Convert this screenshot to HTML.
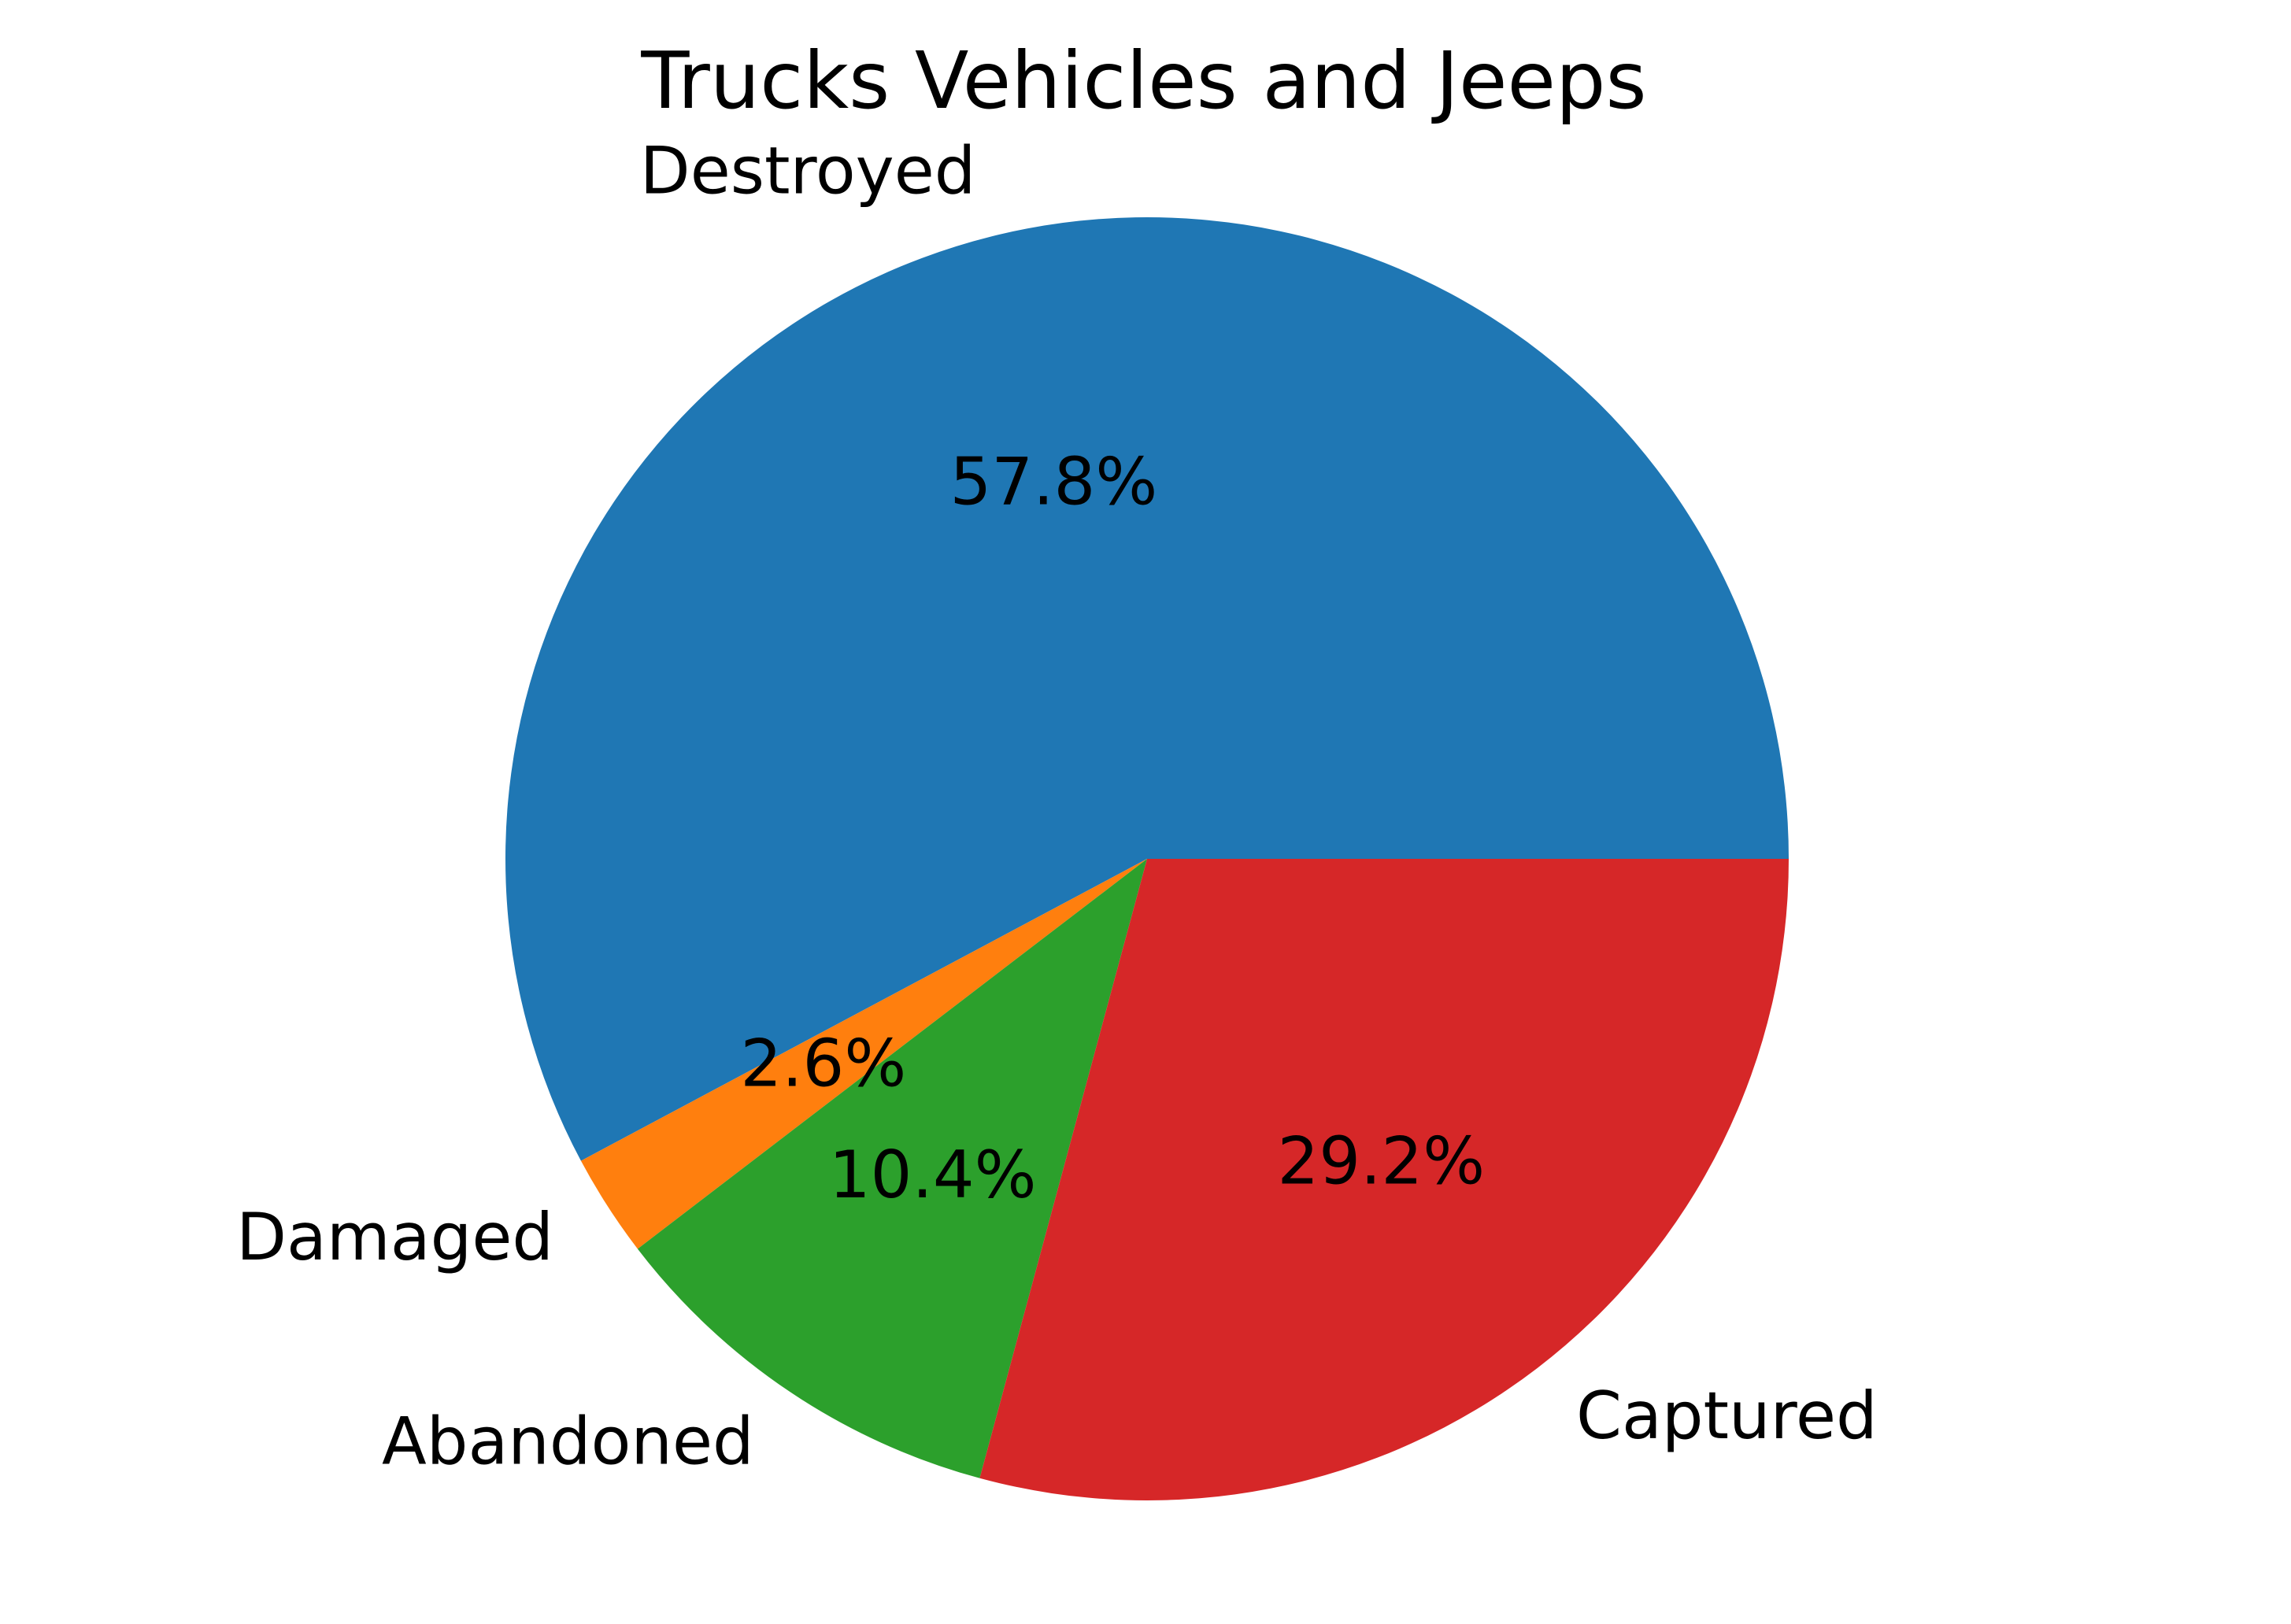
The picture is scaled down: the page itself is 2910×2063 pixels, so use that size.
<!DOCTYPE html>
<html><head><meta charset="utf-8"><style>
html,body{margin:0;padding:0;background:#fff;}
svg text{font-family:"DejaVu Sans","Liberation Sans",sans-serif;fill:#000;}
</style></head><body>
<svg id="chart" width="2910" height="2058" viewBox="0 0 2910 2058" xmlns="http://www.w3.org/2000/svg">
<rect width="2910" height="2058" fill="#fff"/>
<text x="1453" y="137" font-size="100" text-anchor="middle">Trucks Vehicles and Jeeps</text>
<g id="slices"></g>
<g id="labels"></g>
</svg>
<script>
const categories = ["Destroyed", "Damaged", "Abandoned", "Captured"];
const values = [57.8, 2.6, 10.4, 29.2];
const colors = ["#1f77b4", "#ff7f0e", "#2ca02c", "#d62728"];
const cx = 1457, cy = 1091, r = 815;
const ns = "http://www.w3.org/2000/svg";
const sg = document.getElementById('slices');
const lg = document.getElementById('labels');
const total = values.reduce((a, b) => a + b, 0);
let start = 0;
function pt(a, rr) { return [cx + rr * Math.cos(a), cy - rr * Math.sin(a)]; }
values.forEach((v, i) => {
  const frac = v / total;
  const a0 = start * 2 * Math.PI, a1 = (start + frac) * 2 * Math.PI;
  const p0 = pt(a0, r), p1 = pt(a1, r);
  const large = frac > 0.5 ? 1 : 0;
  const path = document.createElementNS(ns, 'path');
  path.setAttribute('d', `M${cx},${cy} L${p0[0]},${p0[1]} A${r},${r} 0 ${large} 0 ${p1[0]},${p1[1]} Z`);
  path.setAttribute('fill', colors[i]);
  
  
  sg.appendChild(path);
  const mid = (a0 + a1) / 2;
  const lp = pt(mid, r * 1.1);
  const t = document.createElementNS(ns, 'text');
  t.setAttribute('x', lp[0]);
  t.setAttribute('y', lp[1] + 24);
  t.setAttribute('font-size', '83');
  t.setAttribute('text-anchor', Math.cos(mid) >= 0 ? 'start' : 'end');
  t.textContent = categories[i];
  
  
  lg.appendChild(t);
  const pp = pt(mid, r * 0.6);
  const u = document.createElementNS(ns, 'text');
  u.setAttribute('x', pp[0]);
  u.setAttribute('y', pp[1] + 24);
  u.setAttribute('font-size', '83');
  u.setAttribute('text-anchor', 'middle');
  u.textContent = (frac * 100).toFixed(1) + '%';
  
  
  lg.appendChild(u);
  start += frac;
});
</script>
</body></html>
